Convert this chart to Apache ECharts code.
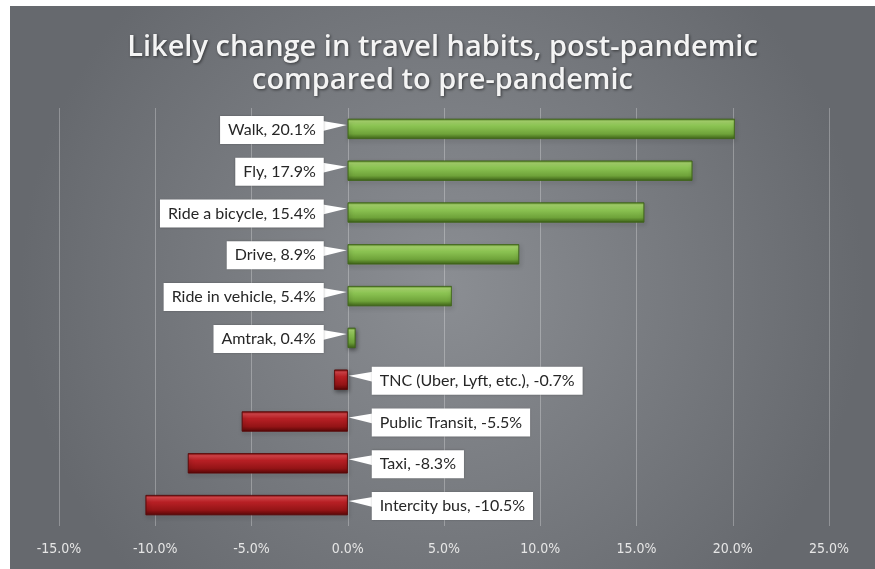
<!DOCTYPE html>
<html>
<head>
<meta charset="utf-8">
<script src="https://cdn.jsdelivr.net/npm/echarts@6/dist/echarts.min.js"></script>
<style>
html,body{margin:0;padding:0;background:#fff;width:875px;height:569px;overflow:hidden;}
#chart{position:absolute;left:10px;top:6px;width:865px;height:563px;}
</style>
</head>
<body>
<div id="chart"></div>
<script>
var categories = ['Walk', 'Fly', 'Ride a bicycle', 'Drive', 'Ride in vehicle', 'Amtrak',
  'TNC (Uber, Lyft, etc.)', 'Public Transit', 'Taxi', 'Intercity bus'];
var values = [20.1, 17.9, 15.4, 8.9, 5.4, 0.4, -0.7, -5.5, -8.3, -10.5];
var xTicks = { min: -15, max: 25, step: 5 };
var titleText = 'Likely change in travel habits, post-pandemic\ncompared to pre-pandemic';

var greenGrad = new echarts.graphic.LinearGradient(0, 0, 0, 1, [
  { offset: 0, color: '#5f8f2c' },
  { offset: 0.12, color: '#a9d86e' },
  { offset: 0.35, color: '#8cc453' },
  { offset: 0.75, color: '#6fa33a' },
  { offset: 1, color: '#3f6419' }
]);
var redGrad = new echarts.graphic.LinearGradient(0, 0, 0, 1, [
  { offset: 0, color: '#7a0d0d' },
  { offset: 0.12, color: '#d8454a' },
  { offset: 0.35, color: '#b82025' },
  { offset: 0.75, color: '#941416' },
  { offset: 1, color: '#5a0808' }
]);

var barData = values.map(function (v) {
  return {
    value: v,
    itemStyle: {
      color: v >= 0 ? greenGrad : redGrad,
      borderColor: v >= 0 ? '#3f6419' : '#5a0808',
      borderWidth: 0.6
    }
  };
});

var labelData = values.map(function (v, i) { return [0, i, v]; });

var chart = echarts.init(document.getElementById('chart'), null, { renderer: 'canvas' });
chart.setOption({
  backgroundColor: {
    type: 'radial', x: 0.5, y: 0.5, r: 0.75,
    colorStops: [
      { offset: 0, color: '#8b8e93' },
      { offset: 1, color: '#66696e' }
    ]
  },
  title: {
    text: titleText,
    left: 'center',
    top: 20,
    textStyle: {
      color: '#f4f4f4',
      fontSize: 29,
      fontWeight: 600,
      fontFamily: '"Open Sans", Lato, sans-serif',
      lineHeight: 33,
      textShadowColor: 'rgba(0,0,0,0.55)',
      textShadowBlur: 3,
      textShadowOffsetX: 1,
      textShadowOffsetY: 1
    }
  },
  grid: { left: 49, right: 46, top: 102, bottom: 43, containLabel: false },
  xAxis: {
    type: 'value',
    min: xTicks.min, max: xTicks.max, interval: xTicks.step,
    axisLine: { show: false },
    axisTick: { show: false },
    splitLine: { show: true, lineStyle: { color: 'rgba(255,255,255,0.28)', width: 1 } },
    axisLabel: {
      color: '#e6e6e6',
      fontSize: 14,
      margin: 16,
      fontFamily: '"Liberation Sans Narrow", "DejaVu Sans Condensed", Lato, sans-serif',
      formatter: function (v) { return v.toFixed(1) + '%'; }
    }
  },
  yAxis: {
    type: 'category',
    data: categories,
    inverse: true,
    axisLine: { show: false },
    axisTick: { show: false },
    axisLabel: { show: false },
    splitLine: { show: false }
  },
  series: [
    {
      type: 'bar',
      data: barData,
      barWidth: 20,
      itemStyle: {
        shadowColor: 'rgba(0,0,0,0.45)',
        shadowBlur: 4,
        shadowOffsetY: 2,
        shadowOffsetX: 1
      },
      silent: true,
      z: 2
    },
    {
      type: 'custom',
      data: labelData,
      z: 3,
      silent: true,
      renderItem: function (params, api) {
        var idx = api.value(1);
        var v = api.value(2);
        var p = api.coord([0, idx]);
        var x0 = p[0], cy = p[1];
        var txt = categories[idx] + ', ' + v.toFixed(1) + '%';
        var gap = 25;
        var pos = v >= 0;
        var edge = pos ? x0 - gap : x0 + gap;
        var tipX = pos ? x0 - 1 : x0 + 1;
        return {
          type: 'group',
          children: [
            {
              type: 'polygon',
              shape: { points: [[edge, cy - 8], [edge, cy + 2], [tipX, cy - 4]] },
              style: { fill: '#ffffff' }
            },
            {
              type: 'text',
              x: edge + (pos ? 1 : -1),
              y: cy + 1,
              style: {
                text: txt,
                align: pos ? 'right' : 'left',
                verticalAlign: 'middle',
                fill: '#262626',
                font: '16px Lato, "Open Sans", sans-serif',
                backgroundColor: '#ffffff',
                padding: [6, 8, 6, 8],
                shadowColor: 'rgba(0,0,0,0.25)',
                shadowBlur: 2
              }
            }
          ]
        };
      }
    }
  ]
});
</script>
</body>
</html>
